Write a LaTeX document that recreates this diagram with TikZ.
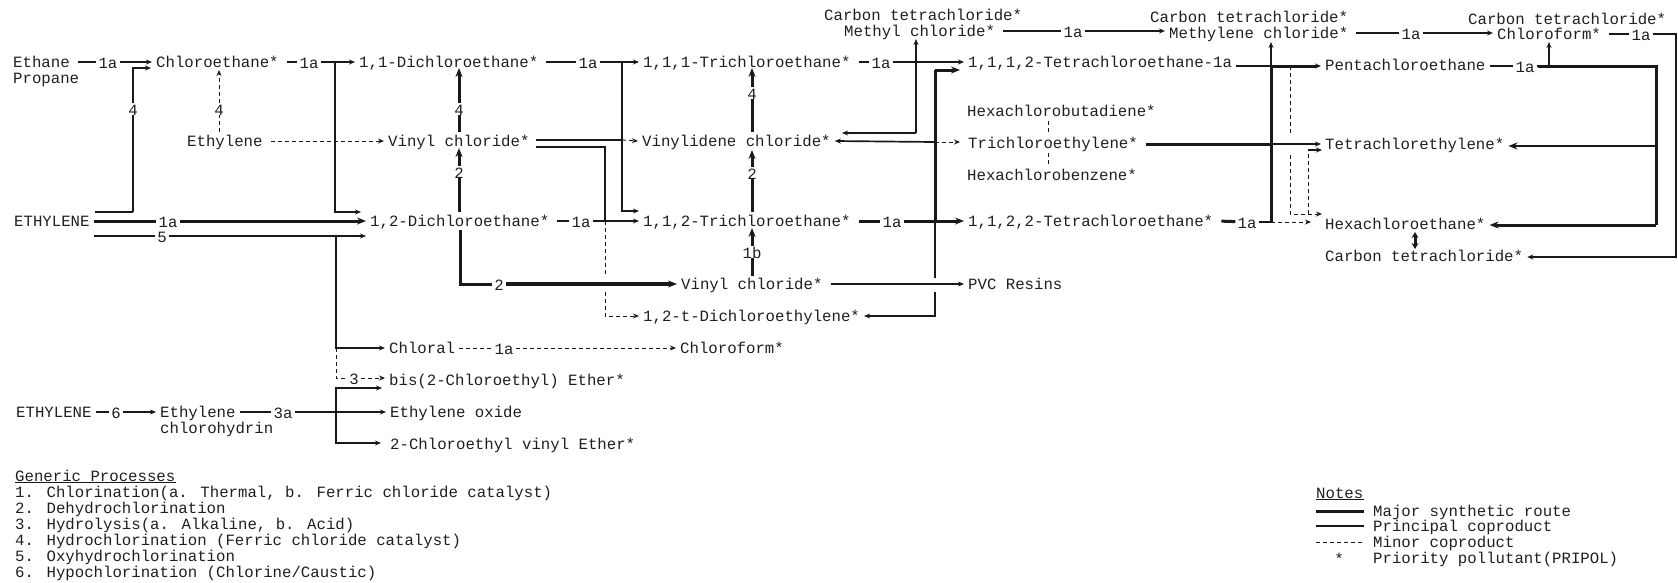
\documentclass[tikz,border=0pt]{standalone}
\usepackage{fontspec}
\setmainfont{Liberation Mono}
\usetikzlibrary{arrows.meta}
\tikzset{
  tx/.style={anchor=west,xshift=-4pt,inner xsep=4pt,inner ysep=0pt,text height=11pt,text depth=1pt,text=black!88},
  lab/.style={inner xsep=2pt,inner ysep=0pt,text height=12pt,text depth=0pt,text=black!88},
  legendline/.style={anchor=west,inner sep=0pt,text height=11pt,text depth=1pt,text=black!88},
  thinln/.style={line width=1.1pt,black!90},
  medln/.style={line width=1.7pt,black!90},
  thickln/.style={line width=3pt,black!90},
  dashln/.style={line width=0.9pt,black!90,dash pattern=on 4pt off 3pt},
  arr/.style={-{Stealth[length=6pt,width=5pt]}},
  barr/.style={-{Stealth[length=9pt,width=7pt]}},
  fromtx/.style={shorten <=4pt},
}
\begin{document}
\begin{tikzpicture}[x=1pt,y=-1pt,font=\fontsize{15.7}{16}\selectfont]
\useasboundingbox (0,0) rectangle (1678,582);
% ---- text nodes
\node[tx] (ethane) at (13,62) {Ethane};
\node[tx] (propane) at (13,78) {Propane};
\node[tx] (chloroeth) at (156,62) {Chloroethane*};
\node[tx] (dca11) at (359,62) {1,1-Dichloroethane*};
\node[tx] (tca111) at (643,62) {1,1,1-Trichloroethane*};
\node[tx] (teca1112) at (968,62) {1,1,1,2-Tetrachloroethane-1a};
\node[tx] (ctop1) at (824,15) {Carbon tetrachloride*};
\node[tx] (mecl) at (844,31) {Methyl chloride*};
\node[tx] (ctop2) at (1150,17) {Carbon tetrachloride*};
\node[tx] (mecl2) at (1169,33) {Methylene chloride*};
\node[tx] (ctop3) at (1468,19) {Carbon tetrachloride*};
\node[tx] (cform) at (1497,34) {Chloroform*};
\node[tx] (penta) at (1325,65) {Pentachloroethane};
\node[tx] (hcbd) at (967,111) {Hexachlorobutadiene*};
\node[tx] (ethylene) at (187,141) {Ethylene};
\node[tx] (vc) at (388,141) {Vinyl chloride*};
\node[tx] (vdc) at (642,141) {Vinylidene chloride*};
\node[tx] (tce) at (968,143) {Trichloroethylene*};
\node[tx] (pce) at (1325,144) {Tetrachlorethylene*};
\node[tx] (hcb) at (967,175) {Hexachlorobenzene*};
\node[tx] (ETH) at (14,221) {ETHYLENE};
\node[tx] (edc) at (370,221) {1,2-Dichloroethane*};
\node[tx] (tca112) at (643,221) {1,1,2-Trichloroethane*};
\node[tx] (teca1122) at (968,221) {1,1,2,2-Tetrachloroethane*};
\node[tx] (hca) at (1325,224) {Hexachloroethane*};
\node[tx] (cct) at (1325,256) {Carbon tetrachloride*};
\node[tx] (vc2) at (681,284) {Vinyl chloride*};
\node[tx] (pvc) at (968,284) {PVC Resins};
\node[tx] (tdce) at (643,316) {1,2-t-Dichloroethylene*};
\node[tx] (chloral) at (389,348) {Chloral};
\node[tx] (cform2) at (680,348) {Chloroform*};
\node[tx] (bis) at (389,380) {bis(2-Chloroethyl) Ether*};
\node[tx] (ETH2) at (16,412) {ETHYLENE};
\node[tx] (ecl) at (160,412) {Ethylene};
\node[tx] (ecl2) at (160,428) {chlorohydrin};
\node[tx] (eo) at (390,412) {Ethylene oxide};
\node[tx] (cevE) at (390,444) {2-Chloroethyl vinyl Ether*};
% ---- process labels
\node[lab] (l1) at (108,62) {1a};
\node[lab] (l2) at (309,62) {1a};
\node[lab] (l3) at (588,62) {1a};
\node[lab] (l4) at (881,62) {1a};
\node[lab] (l5) at (1073,31) {1a};
\node[lab] (l6) at (1411,33) {1a};
\node[lab] (l7) at (1641,34) {1a};
\node[lab] (l8) at (1525,66) {1a};
\node[lab] (l9) at (168,221) {1a};
\node[lab] (l10) at (162,236) {5};
\node[lab] (l11) at (581,221) {1a};
\node[lab] (l12) at (892,221) {1a};
\node[lab] (l13) at (1247,222) {1a};
\node[lab] (l14) at (499,284) {2};
\node[lab] (l15) at (504,348) {1a};
\node[lab] (l16) at (354,378) {3};
\node[lab] (l17) at (116,412) {6};
\node[lab] (l18) at (283,412) {3a};
\node[lab] (v1) at (133,109) {4};
\node[lab] (v2) at (219,109) {4};
\node[lab] (v3) at (459,109) {4};
\node[lab] (v4) at (459,172) {2};
\node[lab] (v5) at (752,93) {4};
\node[lab] (v6) at (752,173) {2};
\node[lab] (v7) at (752,252) {1b};
% ---- junction and free-end points
\path (95,212) coordinate (a1) (133,212) coordinate (a2) (133,68) coordinate (a3) (151,68) coordinate (a4);
\path (219,132) coordinate (b1) (219,70) coordinate (b2);
\path (335,62) coordinate (c1) (335,212) coordinate (c2) (361,212) coordinate (c3);
\path (336,236) coordinate (d1) (336,348) coordinate (d2) (336,378) coordinate (d3);
\path (459,132) coordinate (e1) (459,68) coordinate (e2) (459,212) coordinate (e3) (459,148) coordinate (e4);
\path (460,230) coordinate (f1) (460,284) coordinate (f2);
\path (622,62) coordinate (g1) (622,211) coordinate (g2) (639,211) coordinate (g3);
\path (536,140) coordinate (h1) (622,140) coordinate (h2);
\path (536,147) coordinate (i1) (605,147) coordinate (i2) (605,221) coordinate (i3) (605,276) coordinate (i4) (605,292) coordinate (i5) (605,316) coordinate (i6);
\path (752,132) coordinate (j1) (752,68) coordinate (j2) (752,212) coordinate (j3) (752,150) coordinate (j4) (752,276) coordinate (j5) (752,228) coordinate (j6);
\path (916,133) coordinate (k1) (916,39) coordinate (k2) (842,133) coordinate (k3);
\path (960,70) coordinate (m1) (935,70) coordinate (m2) (935,221) coordinate (m3) (935,278) coordinate (m4) (935,292) coordinate (m5) (935,316) coordinate (m6) (935,142) coordinate (m7) (960,142) coordinate (m8);
\path (1048,121) coordinate (n1) (1048,133) coordinate (n2) (1048,153) coordinate (n3) (1048,166) coordinate (n4);
\path (1271,223) coordinate (o1) (1271,66) coordinate (o2) (1271,42) coordinate (o3) (1271,144) coordinate (o4) (1271,222) coordinate (o5) (1311,222) coordinate (o6);
\path (1290,66) coordinate (p1) (1290,135) coordinate (p2) (1290,155) coordinate (p3) (1290,214) coordinate (p4) (1322,214) coordinate (p5);
\path (1308,214) coordinate (q1) (1308,150) coordinate (q2) (1322,150) coordinate (q3);
\path (1538,66) coordinate (r1) (1656,66) coordinate (r2) (1656,225) coordinate (r3) (1656,146) coordinate (r4) (1549,66) coordinate (r5) (1549,42) coordinate (r6);
\path (1676,34) coordinate (s1) (1676,257) coordinate (s2);
\path (1415,232) coordinate (t1) (1415,249) coordinate (t2);
\path (336,388) coordinate (u1) (336,443) coordinate (u2) (336,412) coordinate (u3);
\path (382,388) coordinate (u4) (381,443) coordinate (u5);
% ---- top row
\draw[thinln,fromtx] (ethane.east) -- (l1);
\draw[thinln,arr] (l1) -- (chloroeth.west);
\draw[thinln,fromtx] (chloroeth.east) -- (l2);
\draw[thinln,arr] (l2) -- (dca11.west);
\draw[thinln,fromtx] (dca11.east) -- (l3);
\draw[thinln,arr] (l3) -- (tca111.west);
\draw[thinln,fromtx] (tca111.east) -- (l4);
\draw[thinln,arr] (l4) -- (teca1112.west);
\draw[thinln,fromtx] (mecl.east) -- (l5);
\draw[thinln,arr] (l5) -- (mecl2.west |- l5);
\draw[thinln,fromtx] (mecl2.east) -- (l6);
\draw[thinln,arr] (l6) -- (cform.west |- l6);
\draw[thinln,fromtx] (cform.east) -- (l7);
\draw[medln,arr,line join=miter] (l7) -- (s1) -- (s2) -- (cct.east |- s2);
% ---- ethylene branches
\draw[thinln] (a1) -- (a2);
\draw[medln] (a2) -- (v1);
\draw[medln,arr] (v1) -- (a3) -- (a4);
\draw[dashln] (b1) -- (v2);
\draw[dashln,arr] (v2) -- (b2);
\draw[dashln,arr,fromtx] (ethylene.east) -- (vc.west);
\draw[medln,arr] (c1) -- (c2) -- (c3);
\draw[thickln] (ETH.east) -- (l9);
\draw[thickln,barr] (l9) -- (edc.west);
\draw[medln] (ETH.east |- l10) -- (l10);
\draw[medln,arr] (l10) -- (edc.west |- l10);
\draw[medln,arr] (d1) -- (d2) -- (chloral.west);
\draw[dashln,arr] (d2) -- (d3) -- (l16) -- (bis.west |- l16);
\draw[dashln] (chloral.east) -- (l15);
\draw[dashln,arr] (l15) -- (cform2.west);
\draw[medln] (ETH2.east) -- (l17);
\draw[thinln,arr] (l17) -- (ecl.west);
\draw[medln] (ecl.east) -- (l18);
\draw[medln,arr] (l18) -- (eo.west);
\draw[medln,arr] (u3) -- (u1) -- (u4);
\draw[medln,arr] (u3) -- (u2) -- (u5);
% ---- dichloroethane column
\draw[thickln] (e1) -- (v3);
\draw[thickln,barr] (v3) -- (e2);
\draw[thickln] (e3) -- (v4);
\draw[thickln,barr] (v4) -- (e4);
\draw[thickln] (f1) -- (f2) -- (l14);
\draw[line width=3.4pt,black!90,barr] (l14) -- (vc2.west);
% ---- vinyl chloride outputs
\draw[thinln,fromtx] (edc.east) -- (l11);
\draw[thinln,arr] (l11) -- (tca112.west);
\draw[medln,arr] (g1) -- (g2) -- (g3);
\draw[thinln] (h1) -- (h2);
\draw[dashln,arr] (h2) -- (vdc.west);
\draw[medln] (i1) -- (i2) -- (i3);
\draw[dashln] (i3) -- (i4);
\draw[dashln,arr] (i5) -- (i6) -- (tdce.west);
% ---- trichloroethane column
\draw[thickln] (j1) -- (v5);
\draw[thickln,barr] (v5) -- (j2);
\draw[thickln] (j3) -- (v6);
\draw[thickln,barr] (v6) -- (j4);
\draw[thickln] (j5) -- (v7);
\draw[thickln,barr] (v7) -- (j6);
\draw[medln,arr] (k1) -- (k2);
\draw[medln,arr] (k1) -- (k3);
\draw[thickln] (m3) -- (m2);
\draw[thickln,barr] (m2) -- (m1);
\draw[thinln] (m3) -- (m4);
\draw[medln,arr] (m5) -- (m6) -- (tdce.east);
\draw[medln,arr] (m7) -- (vdc.east);
\draw[dashln,arr] (m7) -- (m8);
\draw[thickln,fromtx] (tca112.east) -- (l12);
\draw[thickln,barr] (l12) -- (teca1122.west);
\draw[thinln,arr,fromtx] (vc2.east) -- (pvc.west);
\draw[dashln] (n1) -- (n2);
\draw[dashln] (n3) -- (n4);
% ---- right block
\draw[thinln] (teca1112.east |- o2) -- (o2);
\draw[thickln,arr] (o2) -- (penta.west |- o2);
\draw[thickln] (o1) -- (o2);
\draw[medln,arr] (o2) -- (o3);
\draw[thickln,fromtx] (teca1122.east) -- (l13);
\draw[medln] (l13) -- (o5);
\draw[dashln,arr] (o5) -- (o6);
\draw[thickln,fromtx] (tce.east |- o4) -- (o4);
\draw[thinln,arr] (o4) -- (pce.west);
\draw[dashln] (p1) -- (p2);
\draw[dashln,arr] (p3) -- (p4) -- (p5);
\draw[dashln] (q1) -- (q2);
\draw[medln,arr] (q2) -- (q3);
\draw[medln] (penta.east |- l8) -- (l8);
\draw[medln] (l8) -- (r1);
\draw[thickln] (r1) -- (r2) -- (r3);
\draw[thickln,barr] (r3) -- (hca.east |- r3);
\draw[line width=2.2pt,black!90,barr] (r4) -- (pce.east |- r4);
\draw[medln,arr] (r5) -- (r6);
\draw[thickln,{Stealth[length=6pt,width=7pt]}-{Stealth[length=6pt,width=7pt]}] (t1) -- (t2);
% ---- legends
\node[legendline] (g0) at (15,476) {Generic Processes};
\draw[thinln] (g0.south west) -- (g0.south east);
\node[legendline] (g1t) at (15,492) {1. Chlorination(a. Thermal, b. Ferric chloride catalyst)};
\node[legendline] (g2t) at (15,508) {2. Dehydrochlorination};
\node[legendline] (g3t) at (15,524) {3. Hydrolysis(a. Alkaline, b. Acid)};
\node[legendline] (g4t) at (15,540) {4. Hydrochlorination (Ferric chloride catalyst)};
\node[legendline] (g5t) at (15,556) {5. Oxyhydrochlorination};
\node[legendline] (g6t) at (15,572) {6. Hypochlorination (Chlorine/Caustic)};
\node[legendline] (n0) at (1316,493) {Notes};
\draw[thinln] (n0.south west) -- (n0.south east);
\node[legendline] (n1t) at (1373,511) {Major synthetic route};
\node[legendline] (n2t) at (1373,526) {Principal coproduct};
\node[legendline] (n3t) at (1373,542) {Minor coproduct};
\node[legendline] (n4t) at (1373,558) {Priority pollutant(PRIPOL)};
\node[lab] (star) at (1339,558) {*};
\path (1316,511) coordinate (w1) (1316,526) coordinate (w2) (1316,542) coordinate (w3);
\draw[thickln] (w1) -- (w1 -| n0.east);
\draw[thinln] (w2) -- (w2 -| n0.east);
\draw[dashln] (w3) -- (w3 -| n0.east);
\end{tikzpicture}
\end{document}
